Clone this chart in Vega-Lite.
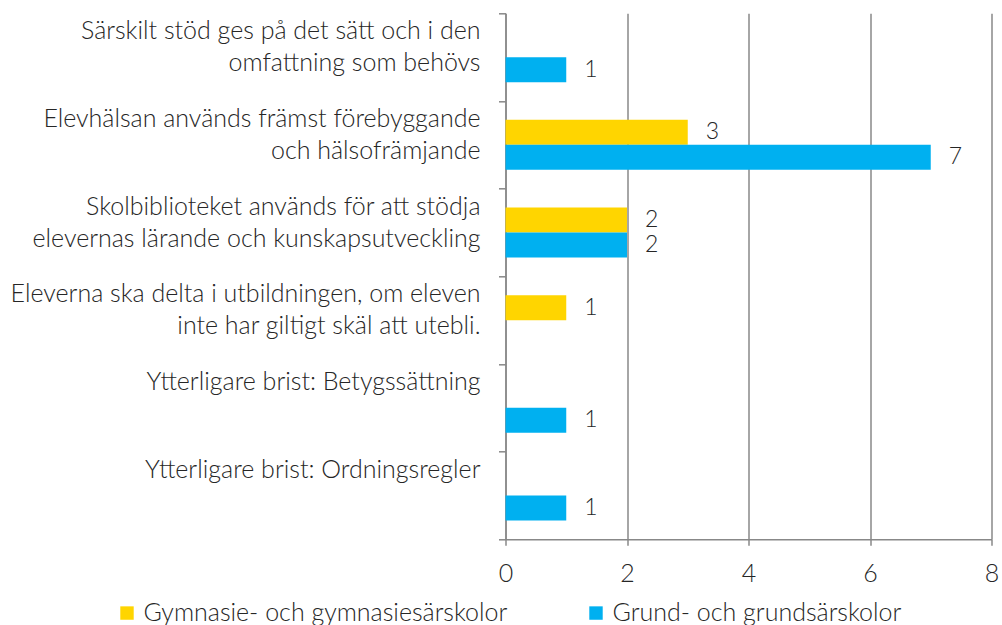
{
  "$schema": "https://vega.github.io/schema/vega-lite/v6.json",
  "autosize": "none",
  "width": 486,
  "height": 526,
  "padding": {"left": 505.5, "top": 13.3, "right": 10.5, "bottom": 85.7},
  "background": "white",
  "config": {"font": "Lato", "view": {"stroke": null}},
  "data": {
    "values": [
      {"kategori": "Särskilt stöd ges på det sätt och i den|omfattning som behövs", "skolform": "Grund- och grundsärskolor", "antal": 1},
      {"kategori": "Elevhälsan används främst förebyggande|och hälsofrämjande", "skolform": "Gymnasie- och gymnasiesärskolor", "antal": 3},
      {"kategori": "Elevhälsan används främst förebyggande|och hälsofrämjande", "skolform": "Grund- och grundsärskolor", "antal": 7},
      {"kategori": "Skolbiblioteket används för att stödja|elevernas lärande och kunskapsutveckling", "skolform": "Gymnasie- och gymnasiesärskolor", "antal": 2},
      {"kategori": "Skolbiblioteket används för att stödja|elevernas lärande och kunskapsutveckling", "skolform": "Grund- och grundsärskolor", "antal": 2},
      {"kategori": "Eleverna ska delta i utbildningen, om eleven|inte har giltigt skäl att utebli.", "skolform": "Gymnasie- och gymnasiesärskolor", "antal": 1},
      {"kategori": "Ytterligare brist: Betygssättning", "skolform": "Grund- och grundsärskolor", "antal": 1},
      {"kategori": "Ytterligare brist: Ordningsregler", "skolform": "Grund- och grundsärskolor", "antal": 1}
    ]
  },
  "encoding": {
    "y": {
      "field": "kategori",
      "type": "nominal",
      "sort": null,
      "scale": {"paddingInner": 0, "paddingOuter": 0},
      "axis": {
        "title": null,
        "domainColor": "#888888",
        "domainWidth": 1.5,
        "tickBand": "extent",
        "tickColor": "#888888",
        "tickSize": 7,
        "tickWidth": 1.5,
        "labelFontSize": 25,
        "labelFontWeight": 300,
        "labelColor": "#262626",
        "labelPadding": 18.5,
        "labelBaseline": "alphabetic",
        "labelOffset": -18.3,
        "labelLineHeight": 32,
        "labelExpr": "isValid(datum.value) ? split(datum.value, '|') : ''",
        "labelLimit": 0,
        "labelAlign": "right"
      }
    },
    "yOffset": {
      "field": "skolform",
      "type": "nominal",
      "scale": {
        "domain": ["Gymnasie- och gymnasiesärskolor", "Grund- och grundsärskolor"],
        "paddingInner": 0,
        "paddingOuter": 0.753
      }
    },
    "x": {
      "field": "antal",
      "type": "quantitative",
      "scale": {"domain": [0, 8], "nice": false},
      "axis": {
        "title": null,
        "values": [0, 2, 4, 6, 8],
        "grid": true,
        "gridColor": "#888888",
        "gridWidth": 1.5,
        "domainColor": "#888888",
        "domainWidth": 1.5,
        "tickColor": "#888888",
        "tickSize": 6,
        "tickWidth": 1.5,
        "labelFontSize": 25,
        "labelFontWeight": 300,
        "labelColor": "#262626",
        "labelPadding": 16,
        "labelFlush": false
      }
    }
  },
  "layer": [
    {
      "mark": {"type": "bar"},
      "encoding": {
        "color": {
          "field": "skolform",
          "type": "nominal",
          "scale": {
            "domain": ["Gymnasie- och gymnasiesärskolor", "Grund- och grundsärskolor"],
            "range": ["#FFD500", "#00B0F0"]
          },
          "legend": {
            "orient": "none",
            "legendX": -391,
            "legendY": 587,
            "direction": "horizontal",
            "columns": 2,
            "columnPadding": 76,
            "title": null,
            "symbolType": "square",
            "symbolSize": 180,
            "symbolStrokeWidth": 0,
            "labelFontSize": 25,
            "labelFontWeight": 300,
            "labelColor": "#262626",
            "labelOffset": 4,
            "labelLimit": 0
          }
        }
      }
    },
    {
      "mark": {"type": "text", "align": "left", "baseline": "middle", "dx": 18, "fontSize": 23, "fontWeight": 300, "color": "#262626"},
      "encoding": {"text": {"field": "antal", "type": "quantitative"}}
    }
  ]
}
